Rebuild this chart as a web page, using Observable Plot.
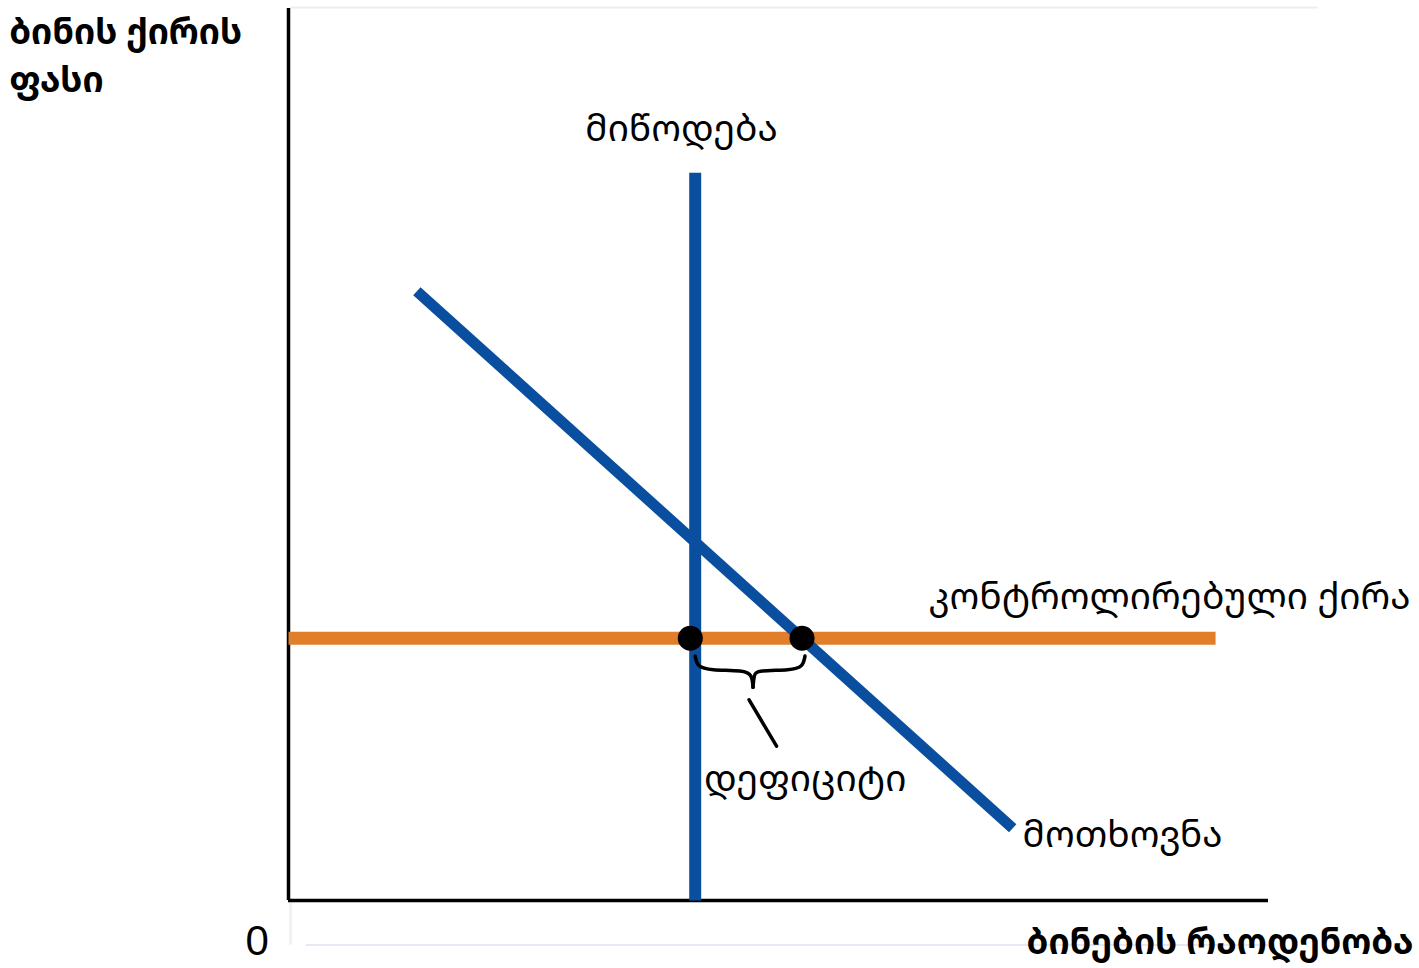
<!DOCTYPE html>
<html>
<head>
<meta charset="utf-8">
<script src="https://cdn.jsdelivr.net/npm/d3@7"></script>
<script src="https://cdn.jsdelivr.net/npm/@observablehq/plot@0.6"></script>
<style>
  html, body { margin: 0; padding: 0; background: #fff; }
  #chart svg { display: block; }
</style>
</head>
<body>
<div id="chart"></div>
<script>
// Data in abstract units: quantity (q) 0..100, price (p) 0..100
const supplyQ = [41.5, 41.5];
const supplyP = [81.6, 0];
const demandQ = [13.1, 73.9];
const demandP = [68.3, 8.1];
const rentQ = [0, 94.6];
const rentP = [29.4, 29.4];
const dotQ = [41.0, 52.4];
const dotP = [29.4, 29.4];
// brace (left half, right half) and pointer line
const braceLeftQ = [41.5, 41.7, 43.0, 46.5, 47.3, 47.4];
const braceLeftP = [27.4, 26.2, 25.8, 25.8, 25.3, 23.9];
const braceRightQ = [52.7, 52.5, 51.3, 47.8, 47.5, 47.4];
const braceRightP = [27.4, 26.2, 25.8, 25.8, 25.3, 23.9];
const pointerQ = [47.0, 49.8];
const pointerP = [22.5, 17.3];
// labels
const labelText = ["მიწოდება", "კონტროლირებული ქირა", "დეფიციტი", "მოთხოვნა"];
const labelQ = [40.1, 114.5, 42.4, 74.9];
const labelP = [86.5, 34.0, 13.6, 7.3];
const labelAnchor = ["middle", "end", "start", "start"];
const titleText = ["ბინის ქირის", "ფასი", "ბინების რაოდენობა"];
const titleQ = [-28.5, -28.5, 114.8];
const titleP = [97.3, 91.9, -4.7];
const titleAnchor = ["start", "start", "end"];
const zeroLabel = ["0"];

const pts = (qs, ps) => qs.map((q, i) => ({q, p: ps[i]}));
const labels = labelText.map((t, i) => ({t, q: labelQ[i], p: labelP[i], a: labelAnchor[i]}));
const titles = titleText.map((t, i) => ({t, q: titleQ[i], p: titleP[i], a: titleAnchor[i]}));

const BLUE = "#0a4f9f", ORANGE = "#e07e29";
const FONT = "Noto Sans Georgian";

const textMarks = (arr, opts) => ["start", "middle", "end"].map(a =>
  Plot.text(arr.filter(d => d.a === a), {x: "q", y: "p", text: "t", textAnchor: a, lineAnchor: "middle", ...opts}));

const chart = Plot.plot({
  width: 1419,
  height: 968,
  margin: 0,
  x: {domain: [0, 100], range: [288, 1268], axis: null},
  y: {domain: [0, 100], range: [900, 8], axis: null},
  style: {background: "#fff", fontFamily: FONT},
  marks: [
    // faint frame remnants
    Plot.ruleY([100.1], {x1: 0.2, x2: 105.1, stroke: "#eeeeee", strokeWidth: 2}),
    Plot.ruleY([-5.0], {x1: 1.8, x2: 100, stroke: "#e6e9f1", strokeWidth: 2}),
    Plot.ruleX([0.2], {y1: -5.0, y2: 0, stroke: "#eef1f6", strokeWidth: 3}),
    // axes
    Plot.ruleX([0], {y1: 0, y2: 100, stroke: "#000", strokeWidth: 3.5}),
    Plot.ruleY([0], {x1: 0, x2: 100, stroke: "#000", strokeWidth: 3.5}),
    // curves
    Plot.line(pts(rentQ, rentP), {x: "q", y: "p", stroke: ORANGE, strokeWidth: 13, strokeLinecap: "butt"}),
    Plot.line(pts(supplyQ, supplyP), {x: "q", y: "p", stroke: BLUE, strokeWidth: 12, strokeLinecap: "butt"}),
    Plot.line(pts(demandQ, demandP), {x: "q", y: "p", stroke: BLUE, strokeWidth: 11, strokeLinecap: "butt"}),
    Plot.dot(pts(dotQ, dotP), {x: "q", y: "p", r: 12.5, fill: "#000"}),
    // brace + pointer
    Plot.line(pts(braceLeftQ, braceLeftP), {x: "q", y: "p", stroke: "#000", strokeWidth: 3.5, curve: "basis"}),
    Plot.line(pts(braceRightQ, braceRightP), {x: "q", y: "p", stroke: "#000", strokeWidth: 3.5, curve: "basis"}),
    Plot.line(pts(pointerQ, pointerP), {x: "q", y: "p", stroke: "#000", strokeWidth: 3.5}),
    // labels
    ...textMarks(labels, {fontSize: 37, fill: "#000"}),
    ...textMarks(titles, {fontSize: 35, fontWeight: "bold", fill: "#000"}),
    Plot.text(zeroLabel, {x: -2.0, y: -4.6, text: d => d, textAnchor: "end", lineAnchor: "middle", fontSize: 42, fontFamily: "Liberation Sans", fill: "#000"})
  ]
});
document.getElementById("chart").appendChild(chart);
</script>
</body>
</html>
